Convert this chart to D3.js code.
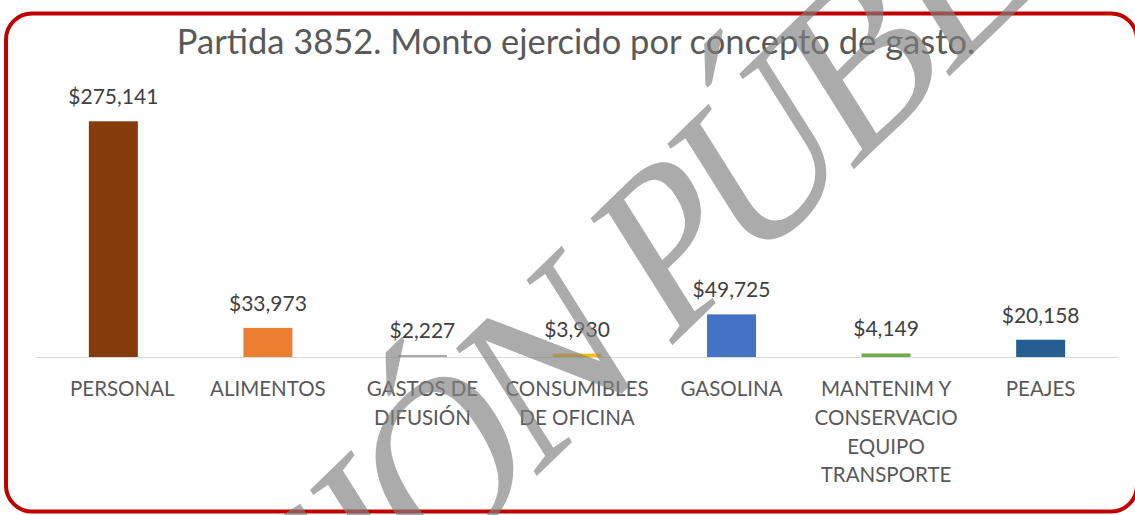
<!DOCTYPE html>
<html>
<head>
<meta charset="utf-8">
<script src="https://cdn.jsdelivr.net/npm/d3@7"></script>
<style>
  html, body { margin: 0; padding: 0; background: #ffffff; }
  svg { display: block; }
</style>
</head>
<body>
<div id="chart"></div>
<script>
  // Partida 3852 — monto ejercido por concepto de gasto
  const categories = [
    ["PERSONAL"],
    ["ALIMENTOS"],
    ["GASTOS DE", "DIFUSIÓN"],
    ["CONSUMIBLES", "DE OFICINA"],
    ["GASOLINA"],
    ["MANTENIM Y", "CONSERVACIO", "EQUIPO", "TRANSPORTE"],
    ["PEAJES"]
  ];
  const values = [275141, 33973, 2227, 3930, 49725, 4149, 20158];
  const barColors = ["#843C0C", "#ED7D31", "#A5A5A5", "#FFC000", "#4472C4", "#70AD47", "#255E91"];
  const yDomain = [0, 300000];
  const title = "Partida 3852. Monto ejercido por concepto de gasto.";
  const watermark = "VERSIÓN PÚBLICA";

  const W = 1135, H = 515;
  const FONT = "Lato, 'Open Sans', sans-serif";

  const svg = d3.select("#chart").append("svg")
    .attr("width", W).attr("height", H);

  // frame
  svg.append("rect")
    .attr("x", 6).attr("y", 13.5).attr("width", 1131).attr("height", 498)
    .attr("rx", 26).attr("ry", 26)
    .attr("fill", "#ffffff").attr("stroke", "#C00000").attr("stroke-width", 4);

  svg.append("text")
    .attr("x", 576).attr("y", 54)
    .attr("text-anchor", "middle").attr("fill", "#595959")
    .attr("font-family", FONT).attr("font-size", "34.5px")
    .text(title);

  const margin = { left: 36, right: 17, top: 100, baseline: 357 };

  const x = d3.scaleBand()
    .domain(d3.range(values.length))
    .range([margin.left, W - margin.right])
    .paddingInner(0.683).paddingOuter(0.342);

  const y = d3.scaleLinear().domain(yDomain).range([margin.baseline, margin.top]);

  const g = svg.append("g");

  g.selectAll("rect.bar").data(values).join("rect")
    .attr("class", "bar")
    .attr("x", (d, i) => x(i))
    .attr("width", x.bandwidth())
    .attr("y", d => y(d))
    .attr("height", d => y(0) - y(d))
    .attr("fill", (d, i) => barColors[i]);

  // baseline
  g.append("line")
    .attr("x1", margin.left).attr("x2", W - margin.right)
    .attr("y1", y(0) + 0.5).attr("y2", y(0) + 0.5)
    .attr("stroke", "#D9D9D9").attr("stroke-width", 1.2);

  const fmt = d3.format("$,");
  g.selectAll("text.val").data(values).join("text")
    .attr("class", "val")
    .attr("x", (d, i) => x(i) + x.bandwidth() / 2)
    .attr("y", d => y(d) - 17)
    .attr("text-anchor", "middle").attr("fill", "#404040")
    .attr("font-family", FONT).attr("font-size", "21px")
    .text(d => fmt(d));

  const cat = g.selectAll("text.cat").data(categories).join("text")
    .attr("class", "cat")
    .attr("text-anchor", "middle").attr("fill", "#595959")
    .attr("font-family", FONT).attr("font-size", "20.5px");
  cat.selectAll("tspan").data((d, i) => d.map(t => ({ t, i }))).join("tspan")
    .attr("x", d => x(d.i) + x.bandwidth() / 2)
    .attr("y", (d, j) => 396 + j * 28.8)
    .text(d => d.t);

  // Excel keeps the first label off the plot's left edge
  cat.each(function () {
    const b = this.getBBox();
    const minLeft = 70;
    if (b.x < minLeft) {
      const dx = minLeft - b.x;
      d3.select(this).selectAll("tspan").attr("x", function () { return +this.getAttribute("x") + dx; });
    }
  });

  // watermark, semi-transparent over everything (stretched diagonal WordArt)
  svg.append("text")
    .attr("transform", "translate(20,977) scale(1,1.24) rotate(-38)")
    .attr("fill", "#808080").attr("fill-opacity", 0.66)
    .attr("font-family", "'Liberation Serif', 'DejaVu Serif', serif")
    .attr("font-size", "200px")
    .attr("letter-spacing", "-12px")
    .text(watermark);
</script>
</body>
</html>
